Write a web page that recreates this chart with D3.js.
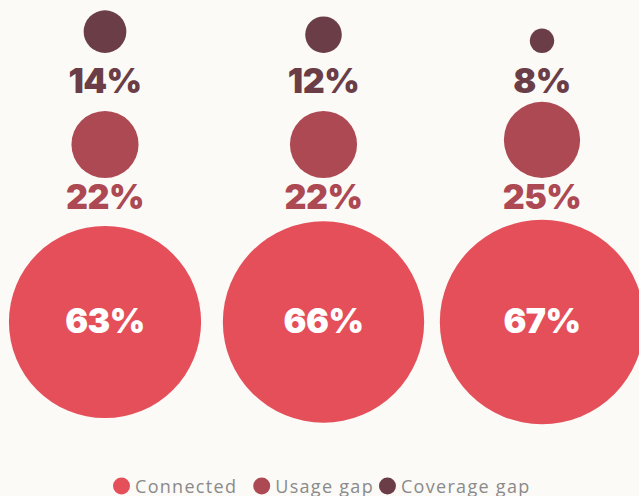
<!DOCTYPE html>
<html><head><meta charset="utf-8">
<script src="https://cdn.jsdelivr.net/npm/d3@7"></script>
<style>
html,body{margin:0;padding:0;background:#fbfaf7;}
svg{display:block;}
</style></head>
<body>
<svg id="chart" width="639" height="496"></svg>
<script>
const groups = ["Group A", "Group B", "Group C"];
const connected = [63, 66, 67];
const usageGap = [22, 22, 25];
const coverageGap = [14, 12, 8];
const seriesNames = ["Connected", "Usage gap", "Coverage gap"];
const seriesColors = ["#e44f5a", "#ad4952", "#6b3e47"];

const svg = d3.select("#chart");
const W = 639, H = 496;
svg.append("rect").attr("width", W).attr("height", H).attr("fill", "#fbfaf7");

const x = d3.scalePoint().domain(groups).range([105, 542]);
const r = d3.scaleLinear().domain([0, 100]).range([0, 152.5]);
const color = d3.scaleOrdinal().domain(seriesNames).range(seriesColors);

const bigFont = "'Inter','Noto Sans','DejaVu Sans',sans-serif";

const g = svg.append("g");
groups.forEach((grp, i) => {
  const cx = x(grp);
  // coverage gap
  g.append("circle").attr("cx", cx).attr("cy", 53 - r(coverageGap[i])).attr("r", r(coverageGap[i]))
    .attr("fill", color("Coverage gap"));
  g.append("text").attr("x", cx).attr("y", 93).attr("text-anchor", "middle")
    .attr("font-family", bigFont).attr("font-weight", 900).attr("font-size", 34)
    .attr("letter-spacing", "-0.5").attr("fill", color("Coverage gap"))
    .text(coverageGap[i] + "%");
  // usage gap
  g.append("circle").attr("cx", cx).attr("cy", 178 - r(usageGap[i])).attr("r", r(usageGap[i]))
    .attr("fill", color("Usage gap"));
  g.append("text").attr("x", cx).attr("y", 209).attr("text-anchor", "middle")
    .attr("font-family", bigFont).attr("font-weight", 900).attr("font-size", 34)
    .attr("letter-spacing", "-0.5").attr("fill", color("Usage gap"))
    .text(usageGap[i] + "%");
  // connected
  g.append("circle").attr("cx", cx).attr("cy", 322).attr("r", r(connected[i]))
    .attr("fill", color("Connected"));
  g.append("text").attr("x", cx).attr("y", 333).attr("text-anchor", "middle")
    .attr("font-family", bigFont).attr("font-weight", 900).attr("font-size", 34)
    .attr("letter-spacing", "-0.5").attr("fill", "#ffffff")
    .text(connected[i] + "%");
});

// legend
const legend = svg.append("g").attr("transform", "translate(0,486)");
let lx = 113;
seriesNames.forEach((name, i) => {
  const item = legend.append("g");
  item.append("circle").attr("cx", lx + 8.5).attr("cy", 0).attr("r", 8.5).attr("fill", color(name));
  const t = item.append("text").attr("x", lx + 22).attr("y", 6.5)
    .attr("font-family", "'Open Sans','Noto Sans',sans-serif").attr("font-size", 18)
    .attr("letter-spacing", "1.3").attr("fill", "#8a8a8a").text(name);
  const w = t.node().getComputedTextLength();
  lx = lx + 22 + w + (i === 0 ? 16 : 5);
});
</script>
</body></html>
